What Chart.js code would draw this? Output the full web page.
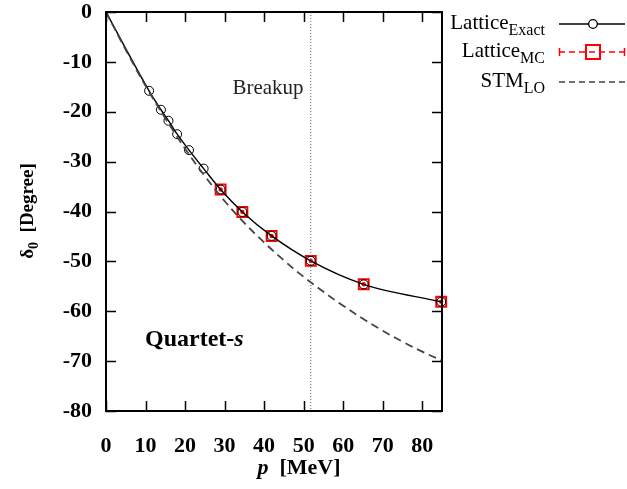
<!DOCTYPE html>
<html>
<head>
<meta charset="utf-8">
<script src="https://cdn.jsdelivr.net/npm/chart.js@4"></script>
<style>
  html, body { margin: 0; padding: 0; background: #fff; }
  canvas { display: block; }
</style>
</head>
<body>
<canvas id="phaseChart" width="627" height="489"></canvas>
<script>
const latticeP = [10.9, 13.9, 15.8, 18.0, 21.0, 24.7, 29.0, 34.5, 41.9, 51.8, 65.2, 84.8];
const latticeExact = [-15.8, -19.6, -21.8, -24.5, -27.7, -31.4, -35.6, -40.1, -44.9, -49.9, -54.6, -58.1];
const mcP = [29.0, 34.5, 41.9, 51.8, 65.2, 84.8];
const latticeMC = [-35.6, -40.1, -44.9, -49.9, -54.6, -58.1];
const stmP = [0, 5, 10, 15, 20, 25, 30, 35, 40, 45, 50, 55, 60, 65, 70, 75, 80, 85];
const stmLO = [0, -7.6, -14.8, -21.3, -27.4, -32.9, -37.9, -42.3, -46.2, -49.8, -53.1, -56.1, -58.9, -61.5, -63.9, -66.1, -68.1, -69.9];
const breakupP = 51.8;
const xTicks = [0, 10, 20, 30, 40, 50, 60, 70, 80];
const yTicks = [-80, -70, -60, -50, -40, -30, -20, -10, 0];

const SERIF = "'Liberation Serif', 'DejaVu Serif', serif";
const pts = (xs, ys) => xs.map((x, i) => ({ x: x, y: ys[i] }));

// draws text runs (font / vertical shift) one after another
function drawRuns(ctx, runs, x, y, align) {
    let w = 0;
    runs.forEach(r => { ctx.font = r.f; w += ctx.measureText(r.t).width; });
    let cx = align === 'right' ? x - w : align === 'center' ? x - w / 2 : x;
    ctx.textAlign = 'left';
    ctx.textBaseline = 'alphabetic';
    runs.forEach(r => {
        ctx.font = r.f;
        ctx.fillText(r.t, cx, y + (r.dy || 0));
        cx += ctx.measureText(r.t).width;
    });
}

const framePlugin = {
    id: 'frame',
    afterDatasetsDraw(chart) {
        const { ctx, chartArea: a, scales } = chart;
        ctx.save();
        ctx.strokeStyle = '#000';
        ctx.lineWidth = 2;
        ctx.strokeRect(a.left, a.top, a.right - a.left, a.bottom - a.top);
        ctx.lineWidth = 1.5;
        ctx.beginPath();
        scales.x.ticks.forEach(t => {
            const px = Math.round(scales.x.getPixelForValue(t.value)) + 0.5;
            ctx.moveTo(px, a.bottom); ctx.lineTo(px, a.bottom - 10);
            ctx.moveTo(px, a.top); ctx.lineTo(px, a.top + 10);
        });
        scales.y.ticks.forEach(t => {
            const py = Math.round(scales.y.getPixelForValue(t.value)) + 0.5;
            ctx.moveTo(a.left, py); ctx.lineTo(a.left + 10, py);
            ctx.moveTo(a.right, py); ctx.lineTo(a.right - 10, py);
        });
        ctx.stroke();
        ctx.restore();
    },
    afterDraw(chart) {
        const { ctx } = chart;
        ctx.save();
        ctx.fillStyle = '#000';

        // axis titles
        drawRuns(ctx, [
            { t: 'p', f: 'italic bold 22px ' + SERIF },
            { t: '  [MeV]', f: 'bold 22px ' + SERIF }
        ], 299, 474, 'center');
        ctx.save();
        ctx.translate(33, 211);
        ctx.rotate(-Math.PI / 2);
        drawRuns(ctx, [
            { t: 'δ', f: 'bold 19px ' + SERIF },
            { t: '0', f: 'bold 14px ' + SERIF, dy: 5 },
            { t: '  [Degree]', f: 'bold 19px ' + SERIF }
        ], 0, 0, 'center');
        ctx.restore();

        // annotations
        ctx.fillStyle = '#222';
        drawRuns(ctx, [{ t: 'Breakup', f: '21px ' + SERIF }], 268, 94, 'center');
        ctx.fillStyle = '#000';
        drawRuns(ctx, [
            { t: 'Quartet-', f: 'bold 24px ' + SERIF },
            { t: 's', f: 'italic bold 24px ' + SERIF }
        ], 145, 346, 'left');

        // legend
        const rows = [
            { main: 'Lattice', sub: 'Exact', y: 24 },
            { main: 'Lattice', sub: 'MC', y: 52 },
            { main: 'STM', sub: 'LO', y: 82 }
        ];
        rows.forEach(r => {
            drawRuns(ctx, [
                { t: r.main, f: '21px ' + SERIF },
                { t: r.sub, f: '16px ' + SERIF, dy: 6 }
            ], 545, r.y + 5, 'right');
        });
        const x0 = 559, x1 = 625;
        // exact
        ctx.strokeStyle = '#000';
        ctx.lineWidth = 1.3;
        ctx.beginPath(); ctx.moveTo(x0, 24); ctx.lineTo(x1, 24); ctx.stroke();
        ctx.fillStyle = '#fff';
        ctx.beginPath(); ctx.arc(593, 24, 4.3, 0, Math.PI * 2); ctx.fill(); ctx.stroke();
        // mc
        ctx.strokeStyle = '#ff0000';
        ctx.lineWidth = 1.5;
        ctx.setLineDash([6, 4]);
        ctx.beginPath(); ctx.moveTo(x0, 52); ctx.lineTo(x1, 52); ctx.stroke();
        ctx.setLineDash([]);
        ctx.beginPath();
        ctx.moveTo(x0 + 0.5, 48); ctx.lineTo(x0 + 0.5, 56);
        ctx.moveTo(x1 - 0.5, 48); ctx.lineTo(x1 - 0.5, 56);
        ctx.stroke();
        ctx.lineWidth = 2;
        ctx.strokeRect(586, 45, 14, 14);
        // stm
        ctx.strokeStyle = '#444';
        ctx.lineWidth = 1.5;
        ctx.setLineDash([6, 4]);
        ctx.beginPath(); ctx.moveTo(x0, 82); ctx.lineTo(x1, 82); ctx.stroke();
        ctx.restore();
    }
};

new Chart(document.getElementById('phaseChart').getContext('2d'), {
    type: 'scatter',
    data: {
        datasets: [
            {
                label: 'Breakup',
                data: [{ x: breakupP, y: 0 }, { x: breakupP, y: -80 }],
                showLine: true,
                borderColor: '#666',
                borderWidth: 1,
                borderDash: [1, 2],
                pointRadius: 0
            },
            {
                label: 'STM_LO',
                data: pts(stmP, stmLO),
                showLine: true,
                borderColor: '#444',
                borderWidth: 1.8,
                borderDash: [8, 5],
                tension: 0.4,
                pointRadius: 0
            },
            {
                label: 'Lattice_Exact curve',
                data: [{ x: 0, y: 0 }].concat(pts(latticeP, latticeExact)),
                showLine: true,
                borderColor: '#000',
                borderWidth: 1.4,
                cubicInterpolationMode: 'monotone',
                pointRadius: 0
            },
            {
                label: 'Lattice_MC dot',
                data: pts(mcP, latticeMC),
                pointStyle: 'circle',
                pointRadius: 2.2,
                pointBackgroundColor: '#f00',
                pointBorderWidth: 0,
                clip: false
            },
            {
                label: 'Lattice_Exact',
                data: pts(latticeP, latticeExact),
                pointStyle: 'circle',
                pointRadius: 4.5,
                pointBorderColor: '#000',
                pointBorderWidth: 1,
                pointBackgroundColor: 'rgba(0,0,0,0)',
                clip: false
            },
            {
                label: 'Lattice_MC',
                data: pts(mcP, latticeMC),
                pointStyle: 'rect',
                pointRadius: 7,
                pointBorderColor: '#ff0000',
                pointBorderWidth: 2,
                pointBackgroundColor: 'rgba(0,0,0,0)',
                clip: false
            }
        ]
    },
    options: {
        responsive: false,
        animation: false,
        layout: { padding: { left: 0, right: 185, top: 12, bottom: 0 } },
        plugins: { legend: { display: false }, tooltip: { enabled: false } },
        scales: {
            x: {
                type: 'linear',
                min: 0,
                max: 85,
                grid: { display: false, drawTicks: false },
                border: { display: false },
                afterBuildTicks: s => { s.ticks = xTicks.map(v => ({ value: v })); },
                afterFit: s => { s.height = 78; s.paddingLeft = 0; s.paddingRight = 0; },
                ticks: {
                    padding: 24,
                    color: '#000',
                    maxRotation: 0,
                    font: { family: SERIF, size: 22, weight: 'bold', lineHeight: 1 }
                }
            },
            y: {
                type: 'linear',
                min: -80,
                max: 0,
                grid: { display: false, drawTicks: false },
                border: { display: false },
                afterBuildTicks: s => { s.ticks = yTicks.map(v => ({ value: v })); },
                afterFit: s => { s.width = 106; s.paddingTop = 0; s.paddingBottom = 0; },
                ticks: {
                    padding: 14,
                    color: '#000',
                    font: { family: SERIF, size: 22, weight: 'bold', lineHeight: 1 }
                }
            }
        }
    },
    plugins: [framePlugin]
});
</script>
</body>
</html>
